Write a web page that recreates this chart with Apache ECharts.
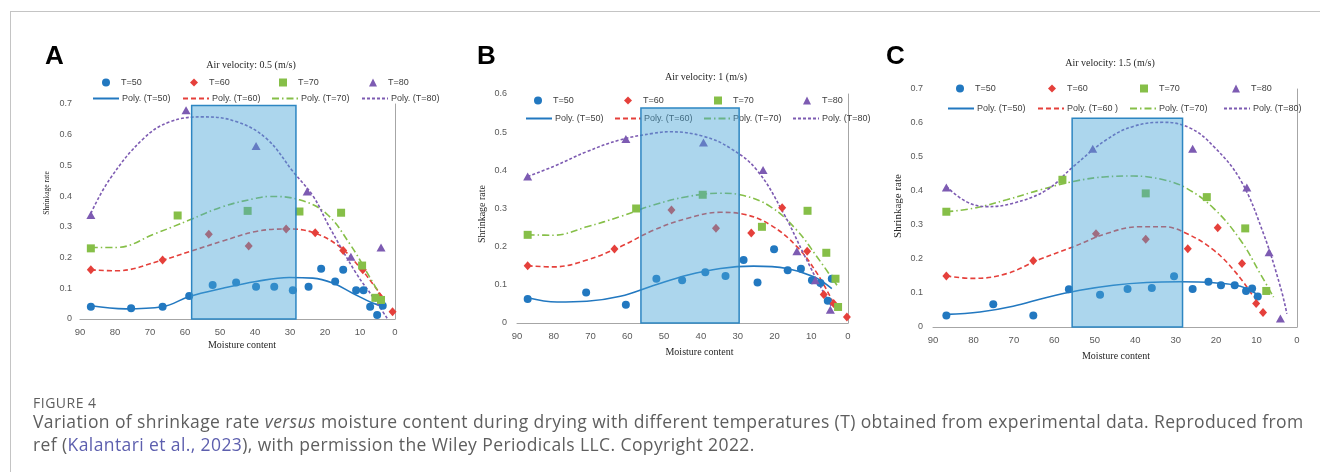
<!DOCTYPE html>
<html>
<head>
<meta charset="utf-8">
<script src="https://cdn.jsdelivr.net/npm/echarts@6/dist/echarts.min.js"></script>
<style>
  html, body { margin: 0; padding: 0; background: #fff; }
  #wrap { position: relative; width: 1320px; height: 472px; overflow: hidden; }
  #frame { position: absolute; left: 10px; top: 11px; width: 1320px; height: 480px;
           border-top: 1.5px solid #c4c4c4; border-left: 1.5px solid #c4c4c4; }
  #chart { position: absolute; left: 0; top: 0; width: 1320px; height: 472px; }
  #cap { position: absolute; left: 33px; top: 395px; font-family: "Open Sans", sans-serif; color: #5e5e5e; white-space: nowrap; }
  #cap .fig { font-size: 14px; line-height: 15px; letter-spacing: 0.5px; }
  #cap .txt { font-size: 17.5px; line-height: 23px; letter-spacing: 0.4px; }
  #cap .ref { color: #5d5fae; }
</style>
</head>
<body>
<div id="wrap">
  <div id="frame"></div>
  <div id="chart"></div>
  <div id="cap">
    <div class="fig">FIGURE 4</div>
    <div class="txt">Variation of shrinkage rate <i>versus</i> moisture content during drying with different temperatures (T) obtained from experimental data. Reproduced from<br>ref (<span class="ref">Kalantari et al., 2023</span>), with permission the Wiley Periodicals LLC. Copyright 2022.</div>
  </div>
</div>
<script>
// points are [moisture content, shrinkage rate]
// panel A, air velocity 0.5 m/s
const A_T50 = [[86.9,0.040],[75.4,0.035],[66.4,0.040],[58.8,0.075],[52.1,0.111],[45.4,0.119],[39.7,0.105],[34.5,0.105],[29.2,0.094],[24.7,0.105],[21.1,0.164],[17.1,0.122],[14.8,0.160],[11.1,0.094],[9.0,0.094],[7.1,0.040],[5.1,0.013],[3.5,0.043]];
const A_T60 = [[86.9,0.160],[66.4,0.192],[53.2,0.276],[41.8,0.238],[31.1,0.293],[22.8,0.281],[14.8,0.223],[9.2,0.160],[4.5,0.073],[0.7,0.024]];
const A_T70 = [[86.9,0.230],[62.1,0.337],[42.1,0.352],[27.3,0.350],[15.4,0.346],[9.4,0.174],[5.6,0.069],[4.0,0.062]];
const A_T80 = [[86.9,0.339],[59.7,0.680],[39.7,0.563],[25.1,0.415],[12.6,0.203],[4.0,0.233]];
const A_FIT50 = [[86.9,0.043],[77,0.033],[66.4,0.040],[58.8,0.073],[49.2,0.100],[39.7,0.122],[30.2,0.135],[23.5,0.133],[17.8,0.117],[12.1,0.084],[6.4,0.052],[3.0,0.040]];
const A_FIT60 = [[86.9,0.160],[79.7,0.157],[66.4,0.192],[58.8,0.219],[49.2,0.254],[39.7,0.285],[31.1,0.293],[23.5,0.282],[15.9,0.236],[10.2,0.170],[5.4,0.100],[3.0,0.062]];
const A_FIT70 = [[86.9,0.233],[79.7,0.233],[68.3,0.279],[58.8,0.322],[49.2,0.366],[39.7,0.393],[35.9,0.399],[27.3,0.388],[19.7,0.344],[13.0,0.246],[7.3,0.138],[3.5,0.062]];
const A_FIT80 = [[86.9,0.344],[81.4,0.457],[71.9,0.587],[64.3,0.642],[54.8,0.658],[45.2,0.642],[36.7,0.587],[29.0,0.478],[23.4,0.400],[18.8,0.301],[11.1,0.149],[6.4,0.073],[2.1,0.0]];
const A_BAND = [58.1, 28.3, 0.695];

// panel B, air velocity 1 m/s
const B_T50 = [[87.1,0.063],[71.2,0.080],[60.4,0.048],[52.1,0.116],[45.1,0.112],[38.8,0.133],[33.3,0.123],[28.4,0.165],[24.6,0.106],[20.1,0.193],[16.4,0.138],[12.8,0.142],[9.8,0.112],[7.5,0.105],[5.5,0.058],[4.4,0.116]];
const B_T60 = [[87.1,0.150],[63.5,0.194],[48.0,0.296],[35.9,0.248],[26.3,0.236],[17.9,0.302],[11.1,0.188],[6.6,0.075],[3.9,0.051],[0.3,0.016]];
const B_T70 = [[87.1,0.231],[57.6,0.300],[39.5,0.336],[23.4,0.252],[11.0,0.294],[5.9,0.184],[3.4,0.116],[2.7,0.042]];
const B_T80 = [[87.1,0.384],[60.4,0.482],[39.3,0.473],[23.1,0.401],[13.9,0.188],[8.9,0.112],[4.8,0.035]];
const B_FIT50 = [[87.1,0.066],[79.1,0.055],[71.0,0.057],[61.9,0.070],[52.9,0.098],[43.8,0.125],[34.7,0.143],[25.7,0.149],[16.6,0.143],[9.3,0.121],[4.4,0.090]];
const B_FIT60 = [[87.1,0.150],[80.1,0.147],[71.0,0.165],[61.9,0.200],[52.9,0.243],[43.8,0.274],[34.7,0.290],[28.4,0.285],[21.1,0.257],[13.9,0.200],[8.4,0.130],[3.9,0.051]];
const B_FIT70 = [[87.1,0.231],[80.1,0.230],[71.0,0.252],[61.9,0.279],[52.9,0.309],[43.8,0.331],[34.7,0.340],[28.4,0.334],[21.1,0.305],[13.9,0.243],[8.4,0.173],[3.0,0.099]];
const B_FIT80 = [[87.1,0.384],[80.1,0.410],[71.0,0.449],[61.9,0.480],[52.9,0.497],[48.3,0.501],[39.3,0.489],[32.0,0.458],[24.8,0.401],[17.5,0.287],[12.1,0.182],[7.5,0.095],[4.4,0.042]];
const B_BAND = [56.3, 29.6, 0.563];

// panel C, air velocity 1.5 m/s
const C_T50 = [[86.7,0.034],[75.1,0.067],[65.2,0.034],[56.4,0.111],[48.7,0.095],[41.9,0.112],[35.9,0.115],[30.4,0.149],[25.8,0.112],[21.9,0.133],[18.8,0.123],[15.4,0.123],[12.6,0.106],[11.1,0.113],[9.7,0.090]];
const C_T60 = [[86.7,0.150],[65.2,0.195],[49.7,0.274],[37.4,0.258],[27.0,0.230],[19.6,0.292],[13.6,0.187],[10.1,0.069],[8.4,0.043]];
const C_T70 = [[86.7,0.339],[58.0,0.433],[37.4,0.393],[22.3,0.382],[12.8,0.290],[7.6,0.106]];
const C_T80 = [[86.7,0.410],[50.5,0.524],[25.8,0.524],[12.4,0.410],[6.9,0.220],[4.1,0.025]];
const C_FIT50 = [[86.7,0.037],[78.4,0.044],[70.2,0.061],[61.9,0.087],[53.7,0.108],[45.4,0.123],[37.2,0.131],[28.9,0.133],[20.6,0.130],[14.0,0.120],[9.5,0.093]];
const C_FIT60 = [[86.7,0.150],[80.1,0.143],[71.8,0.157],[63.6,0.199],[55.3,0.236],[47.1,0.275],[38.8,0.295],[33.0,0.295],[27.3,0.275],[20.6,0.226],[14.9,0.157],[10.7,0.088]];
const C_FIT70 = [[86.7,0.339],[80.1,0.349],[71.8,0.374],[63.6,0.403],[55.3,0.428],[47.1,0.442],[40.5,0.444],[33.0,0.433],[27.3,0.408],[20.6,0.349],[14.0,0.256],[9.1,0.157],[5.8,0.088]];
const C_FIT80 = [[86.7,0.413],[81.8,0.369],[76.8,0.354],[70.2,0.364],[61.9,0.403],[55.3,0.472],[47.1,0.551],[40.5,0.590],[33.0,0.602],[26.4,0.585],[20.6,0.531],[14.0,0.433],[8.3,0.275],[4.1,0.118],[2.5,0.039]];
const C_BAND = [55.6, 28.3, 0.614];

const TITLES = ['Air velocity: 0.5 (m/s)', 'Air velocity: 1 (m/s)', 'Air velocity: 1.5 (m/s)'];
const LETTERS = ['A', 'B', 'C'];
const SCATTER_NAMES = ['T=50', 'T=60', 'T=70', 'T=80'];
const FIT_NAMES = [
  ['Poly. (T=50)', 'Poly. (T=60)', 'Poly. (T=70)', 'Poly. (T=80)'],
  ['Poly. (T=50)', 'Poly. (T=60)', 'Poly. (T=70)', 'Poly. (T=80)'],
  ['Poly. (T=50)', 'Poly. (T=60 )', 'Poly. (T=70)', 'Poly. (T=80)']
];
const Y_MAX = [0.7, 0.6, 0.7];

const SANS = 'Liberation Sans';
const SERIF = 'Liberation Serif';
const COLORS = ['#2278c0', '#e5403b', '#86bf48', '#7d5bb2'];
const SYMBOLS = ['circle', 'diamond', 'rect', 'triangle'];
const SYMBOL_SIZE = [8, [8, 9], 8, [9, 8]];
const DASHES = ['solid', [5, 3], [7, 3, 1.5, 3], [3, 2]];

const panels = [
  { pts: [A_T50, A_T60, A_T70, A_T80], fits: [A_FIT50, A_FIT60, A_FIT70, A_FIT80], band: A_BAND,
    grid: { left: 80, top: 104, width: 315, height: 215 },
    title: [251, 60], letter: [45, 58], yMargin: 8,
    row1: [[106, 194, 283, 373], 78], row2: [[92, 182, 271, 361], 94],
    xName: { gap: 21, pad: [0, 0, 0, 9] }, yName: { gap: 29, pad: [0, 0, 0, 37], size: 7.5 } },
  { pts: [B_T50, B_T60, B_T70, B_T80], fits: [B_FIT50, B_FIT60, B_FIT70, B_FIT80], band: B_BAND,
    grid: { left: 517, top: 94, width: 331, height: 229 },
    title: [706, 72], letter: [477, 58], yMargin: 10,
    row1: [[538, 628, 718, 807], 96], row2: [[525, 614, 703, 792], 114],
    xName: { gap: 24, pad: [0, 0, 0, 34] }, yName: { gap: 30, pad: [0, 11, 0, 0], size: 10 } },
  { pts: [C_T50, C_T60, C_T70, C_T80], fits: [C_FIT50, C_FIT60, C_FIT70, C_FIT80], band: C_BAND,
    grid: { left: 933, top: 89, width: 364, height: 238 },
    title: [1110, 58], letter: [886, 58], yMargin: 10,
    row1: [[960, 1052, 1144, 1236], 84], row2: [[947, 1037, 1129, 1223], 104],
    xName: { gap: 24, pad: [0, 0, 0, 2] }, yName: { gap: 29, pad: [0, 0, 0, 4], size: 11 } }
];

const grids = [], xAxes = [], yAxes = [], series = [], legends = [], titles = [], graphics = [];

// one legend entry per component so each can sit exactly where it is in the figure
function markerLegend(name, center, top) {
  return {
    left: center - 4, top: top, padding: 0, itemWidth: 8, itemHeight: 8, itemGap: 0,
    selectedMode: false, data: [name],
    textStyle: { fontFamily: SANS, fontSize: 9, color: '#404040', padding: [0, 0, 0, 6] }
  };
}
function lineLegend(name, left, top) {
  return {
    left: left, top: top, padding: 0, itemWidth: 26, itemHeight: 8, itemGap: 0,
    selectedMode: false, data: [name], itemStyle: { opacity: 0 },
    textStyle: { fontFamily: SANS, fontSize: 9, color: '#404040', padding: [0, 0, 0, -2] }
  };
}

panels.forEach(function (p, i) {
  grids.push(p.grid);
  xAxes.push({
    gridIndex: i, type: 'value', inverse: true, min: 0, max: 90, interval: 10,
    name: 'Moisture content', nameLocation: 'middle', nameGap: p.xName.gap,
    nameTextStyle: { fontFamily: SERIF, fontSize: 10, color: '#262626', padding: p.xName.pad },
    axisLine: { show: true, lineStyle: { color: '#a6a6a6', width: 1 } },
    axisTick: { show: false }, splitLine: { show: false },
    axisLabel: { fontFamily: SANS, fontSize: 9.5, color: '#595959', margin: 8 }
  });
  yAxes.push({
    gridIndex: i, type: 'value', min: 0, max: Y_MAX[i], interval: 0.1,
    name: 'Shrinkage rate', nameLocation: 'middle', nameGap: p.yName.gap,
    nameTextStyle: { fontFamily: SERIF, fontSize: p.yName.size, color: '#262626', padding: p.yName.pad },
    axisLine: { show: true, lineStyle: { color: '#a6a6a6', width: 1 } },
    axisTick: { show: false }, splitLine: { show: false },
    axisLabel: { fontFamily: SANS, fontSize: 9, color: '#595959', margin: p.yMargin }
  });
  titles.push({
    text: TITLES[i], left: p.title[0], top: p.title[1], textAlign: 'center', padding: 0,
    textStyle: { fontFamily: SERIF, fontSize: 10, fontWeight: 'normal', color: '#262626' }
  });
  graphics.push({
    type: 'text', left: p.letter[0], top: p.letter[1] - 14,
    style: { text: LETTERS[i], font: 'bold 26px "Liberation Sans"', fill: '#000' }
  });

  for (let k = 0; k < 4; k++) {
    series.push({
      name: SCATTER_NAMES[k], type: 'scatter', xAxisIndex: i, yAxisIndex: i,
      data: p.pts[k], symbol: SYMBOLS[k], symbolSize: SYMBOL_SIZE[k],
      itemStyle: { color: COLORS[k], opacity: 1 }, z: 3
    });
    series.push({
      name: FIT_NAMES[i][k], type: 'line', xAxisIndex: i, yAxisIndex: i,
      data: p.fits[k], smooth: 0.4, symbol: 'none',
      lineStyle: { color: COLORS[k], width: 1.6, type: DASHES[k] },
      itemStyle: { color: COLORS[k] }, z: 2
    });
    legends.push(markerLegend(SCATTER_NAMES[k], p.row1[0][k], p.row1[1]));
    legends.push(lineLegend(FIT_NAMES[i][k], p.row2[0][k], p.row2[1]));
  }

  // highlighted moisture range, drawn over the marks like in the source figure
  series.push({
    type: 'custom', xAxisIndex: i, yAxisIndex: i, z: 6, silent: true,
    data: [p.band],
    renderItem: function (params, api) {
      const a = api.coord([api.value(0), api.value(2)]);
      const b = api.coord([api.value(1), 0]);
      return {
        type: 'rect',
        shape: { x: a[0], y: a[1], width: b[0] - a[0], height: b[1] - a[1] },
        style: { fill: 'rgba(72,165,214,0.45)', stroke: '#2d86c2', lineWidth: 1.5 }
      };
    },
    encode: { x: [0, 1], y: 2 }
  });
});

const chart = echarts.init(document.getElementById('chart'));
chart.setOption({
  animation: false,
  title: titles,
  grid: grids,
  xAxis: xAxes,
  yAxis: yAxes,
  legend: legends,
  graphic: graphics,
  series: series
});
</script>
</body>
</html>
